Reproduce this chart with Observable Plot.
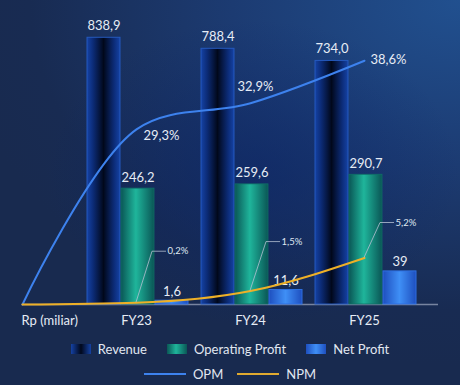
<!DOCTYPE html>
<html>
<head>
<meta charset="utf-8">
<script src="https://cdn.jsdelivr.net/npm/d3@7"></script>
<script src="https://cdn.jsdelivr.net/npm/@observablehq/plot@0.6"></script>
<style>
  html, body { margin: 0; padding: 0; }
  body {
    width: 460px; height: 385px; overflow: hidden;
    font-family: Lato, "Noto Sans", sans-serif; color: #e3e9f3;
    background:
      radial-gradient(ellipse 45% 40% at 55% 45%, rgba(10, 36, 104, 0.55), rgba(10, 36, 104, 0) 100%),
      radial-gradient(ellipse 110% 95% at 100% 0%, #21508f 0%, #1c3b72 45%, #182b52 85%, #182a4f 100%);
  }
  #chart { position: relative; width: 460px; height: 330px; }
  #chart svg { position: absolute; left: 0; top: 0; }
  .legend-row { display: flex; justify-content: center; align-items: center; height: 16px; font-size: 13px; color: #e1e7f1; }
  .legend-row.first { margin-top: 11px; }
  .legend-row.second { margin-top: 9px; }
  .item { display: flex; align-items: center; margin: 0 10px; }
  .row2 .item { margin: 0 7px; }
  .sw { width: 20px; height: 10px; margin-right: 7px; box-sizing: border-box; }
  .ln { width: 42px; height: 2px; margin-right: 7px; }
</style>
</head>
<body>
<div id="chart"></div>
<div class="legend-row first" id="legend-bars"></div>
<div class="legend-row second row2" id="legend-lines"></div>
<script>
// Financial summary, Rp billions
const years = ["FY23", "FY24", "FY25"];
const revenue = [838.9, 788.4, 734.0];
const operatingProfit = [246.2, 259.6, 290.7];
const netProfit = [1.6, 11.6, 39];
// Margins, percent
const opm = [29.3, 32.9, 38.6];
const npm = [0.2, 1.5, 5.2];
const unitLabel = "Rp (miliar)";

const rows = years.map((year, i) => ({
  year, revenue: revenue[i], operatingProfit: operatingProfit[i], netProfit: netProfit[i],
  opm: opm[i], npm: npm[i]
}));
// the margin lines start from zero at the left end of the axis
const lineRows = [{year: unitLabel, opm: 0, npm: 0}, ...rows];

const locale = d3.formatLocale({decimal: ",", thousands: ".", grouping: [3], currency: ["Rp", ""]});
const fmt1 = locale.format(".1f");
const fmtTrim = locale.format(".1~f");
const pct = v => fmt1(v) + "%";

const W = 460, H = 330, BOTTOM = 26, LEFT = 21.5;
const textColor = "#e6ecf5";
const font = "Lato, 'Noto Sans', sans-serif";
const svgStyle = {background: "transparent", overflow: "visible", fontFamily: font};
const ns = "http://www.w3.org/2000/svg";

const gradients = {
  gRev: [[0, "#1542a4"], [0.18, "#0c2c78"], [0.5, "#01081b"], [0.82, "#0c2c78"], [1, "#1542a4"]],
  gOp: [[0, "#0a5756"], [0.45, "#1fb59b"], [1, "#0a5756"]],
  gNet: [[0, "#1e4fbf"], [0.5, "#3f8ff6"], [1, "#1e4fbf"]]
};

function gradientDefs() {
  return () => {
    const defs = document.createElementNS(ns, "defs");
    for (const [id, stops] of Object.entries(gradients)) {
      const g = document.createElementNS(ns, "linearGradient");
      g.setAttribute("id", id);
      g.setAttribute("x1", "0"); g.setAttribute("x2", "1");
      g.setAttribute("y1", "0"); g.setAttribute("y2", "0");
      for (const [o, c] of stops) {
        const s = document.createElementNS(ns, "stop");
        s.setAttribute("offset", o);
        s.setAttribute("stop-color", c);
        g.appendChild(s);
      }
      defs.appendChild(g);
    }
    return defs;
  };
}

// Bars: three series side by side inside each year band
const slot = 34;
const bars = Plot.plot({
  width: W, height: H,
  marginTop: 20, marginBottom: BOTTOM, marginLeft: LEFT, marginRight: 22,
  style: svgStyle,
  x: {type: "band", domain: years, paddingInner: 0.118, paddingOuter: 0.3777, align: 0.74, axis: null},
  y: {type: "pow", exponent: 0.68, domain: [0, 920], axis: null},
  marks: [
    gradientDefs(),
    Plot.ruleY([0], {stroke: "#7784a0", strokeWidth: 1.5}),
    Plot.barY(rows, {x: "year", y: "revenue", fill: "url(#gRev)", stroke: "#2559bd", strokeWidth: 1, insetRight: 2 * slot}),
    Plot.barY(rows, {x: "year", y: "operatingProfit", fill: "url(#gOp)", stroke: "#0f6f68", strokeWidth: 0.8, insetLeft: slot, insetRight: slot}),
    Plot.barY(rows, {x: "year", y: "netProfit", fill: "url(#gNet)", stroke: "#2e6fe0", strokeWidth: 1, insetLeft: 2 * slot}),
    Plot.text(rows, {x: "year", y: "revenue", text: d => fmt1(d.revenue), dx: -slot, dy: -8, lineAnchor: "bottom", fill: textColor, fontSize: 13}),
    Plot.text(rows, {x: "year", y: "operatingProfit", text: d => fmt1(d.operatingProfit), dy: -7, lineAnchor: "bottom", fill: textColor, fontSize: 13}),
    Plot.text(rows, {x: "year", y: "netProfit", text: d => fmtTrim(d.netProfit), dx: slot, dy: -5, lineAnchor: "bottom", fill: textColor, fontSize: 13})
  ]
});

// Shared horizontal layout for the margin lines
const lineX = {type: "point", domain: [unitLabel, ...years], padding: 0, axis: null};
const lineMargins = {marginTop: 0, marginBottom: BOTTOM, marginLeft: LEFT, marginRight: W - 365};

// Operating profit margin line with axis labels
const opmPlot = Plot.plot({
  width: W, height: H, ...lineMargins,
  style: svgStyle,
  x: lineX,
  y: {type: "pow", exponent: 1.2, domain: [0, 46.4], axis: null},
  marks: [
    Plot.axisX(years, {tickSize: 0, tickPadding: 11, fontSize: 13, fill: textColor, label: null}),
    Plot.axisX([unitLabel], {tickSize: 0, tickPadding: 11, fontSize: 13, fill: textColor, textAnchor: "start", dx: -1, label: null}),
    Plot.line(lineRows, {x: "year", y: "opm", stroke: "#3d82ee", strokeWidth: 2, curve: "catmull-rom"}),
    Plot.text(rows.filter(d => d.year === "FY23"), {x: "year", y: "opm", text: d => pct(d.opm), dx: 7, dy: 6, textAnchor: "start", fill: textColor, fontSize: 13}),
    Plot.text(rows.filter(d => d.year === "FY24"), {x: "year", y: "opm", text: d => pct(d.opm), dx: 5, dy: -16, fill: textColor, fontSize: 13}),
    Plot.text(rows.filter(d => d.year === "FY25"), {x: "year", y: "opm", text: d => pct(d.opm), dx: 6, dy: -1, textAnchor: "start", fill: textColor, fontSize: 13})
  ]
});

// Callouts for net profit margin: a leader line bent into a short shelf
const calloutRise = [51, 49, 35];
function npmCallouts(data) {
  return (index, {x, y}) => {
    const g = document.createElementNS(ns, "g");
    data.forEach((d, i) => {
      const x0 = x(d.year), y0 = y(d.npm);
      const x1 = x0 + 16, y1 = y0 - calloutRise[i], x2 = x1 + 14;
      const p = document.createElementNS(ns, "path");
      p.setAttribute("d", `M${x0},${y0}L${x1},${y1}L${x2},${y1}`);
      p.setAttribute("fill", "none");
      p.setAttribute("stroke", "#b5c0d3");
      p.setAttribute("stroke-width", "0.8");
      g.appendChild(p);
      const t = document.createElementNS(ns, "text");
      t.setAttribute("x", x2 + 1.5);
      t.setAttribute("y", y1);
      t.setAttribute("dy", "0.34em");
      t.setAttribute("text-anchor", "start");
      t.setAttribute("fill", "#dfe6f0");
      t.setAttribute("font-size", "9.5");
      t.setAttribute("font-family", font);
      t.textContent = pct(d.npm);
      g.appendChild(t);
    });
    return g;
  };
}

// Net profit margin line
const npmPlot = Plot.plot({
  width: W, height: H, ...lineMargins,
  style: svgStyle,
  x: lineX,
  y: {type: "linear", domain: [0, 34], axis: null},
  marks: [
    Plot.line(lineRows, {x: "year", y: "npm", stroke: "#eeb027", strokeWidth: 2, curve: "monotone-x"}),
    npmCallouts(rows)
  ]
});

const chart = document.getElementById("chart");
chart.append(bars, opmPlot, npmPlot);

// Legend
const barLegend = [
  ["Revenue", "linear-gradient(90deg,#1542a4,#01081b 50%,#1542a4)"],
  ["Operating Profit", "linear-gradient(90deg,#0a5756,#1fb59b 45%,#0a5756)"],
  ["Net Profit", "linear-gradient(90deg,#1e4fbf,#3f8ff6 50%,#1e4fbf)"]
];
const lineLegend = [["OPM", "#3d82ee"], ["NPM", "#e0aa30"]];
const lb = document.getElementById("legend-bars");
for (const [name, bg] of barLegend) {
  const it = document.createElement("div"); it.className = "item";
  const sw = document.createElement("div"); sw.className = "sw"; sw.style.background = bg;
  const tx = document.createElement("span"); tx.textContent = name;
  it.append(sw, tx); lb.append(it);
}
const ll = document.getElementById("legend-lines");
for (const [name, c] of lineLegend) {
  const it = document.createElement("div"); it.className = "item";
  const sw = document.createElement("div"); sw.className = "ln"; sw.style.background = c;
  const tx = document.createElement("span"); tx.textContent = name;
  it.append(sw, tx); ll.append(it);
}
</script>
</body>
</html>
